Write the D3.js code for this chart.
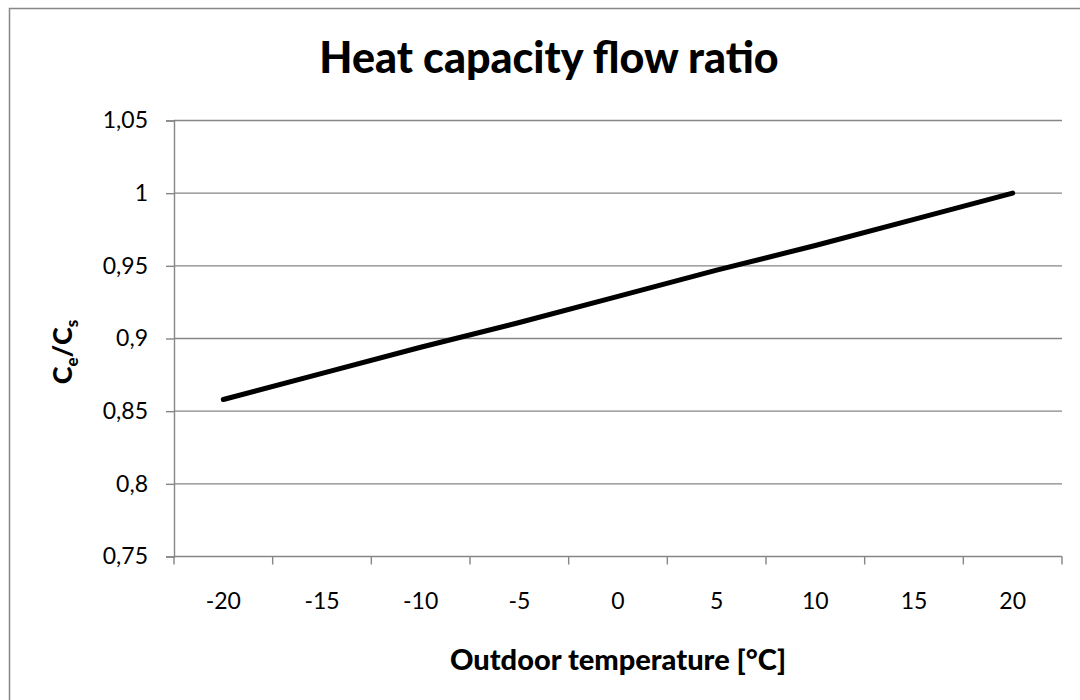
<!DOCTYPE html>
<html><head><meta charset="utf-8">
<script src="https://cdn.jsdelivr.net/npm/d3@7"></script>
<style>
html,body{margin:0;padding:0;background:#fff;}
svg{display:block;font-family:Lato,"Open Sans",sans-serif;}
</style></head>
<body>
<svg id="chart" width="1080" height="700"></svg>
<script>
const categories = ["-20","-15","-10","-5","0","5","10","15","20"];
const ratioValues = [0.858, 0.876, 0.894, 0.911, 0.929, 0.947, 0.964, 0.982, 1.0];
const yTicks = [0.75, 0.8, 0.85, 0.9, 0.95, 1.0, 1.05];
const yTickLabels = ["0,75","0,8","0,85","0,9","0,95","1","1,05"];
const titleText = "Heat capacity flow ratio";
const xTitleText = "Outdoor temperature [°C]";

(function(){
const svg = d3.select("#chart");
const grid = "#868686";
const pLeft = 174, pRight = 1062, pTop = 120.5, pBottom = 556.5;

// outer chart border
svg.append("rect").attr("x",9.5).attr("y",8.5).attr("width",1100).attr("height",720)
  .attr("fill","#fff").attr("stroke",grid).attr("stroke-width",1.5);

const x = d3.scaleBand().domain(categories).range([pLeft,pRight]).paddingInner(0).paddingOuter(0);
const y = d3.scaleLinear().domain([0.75,1.05]).range([pBottom,pTop]);

// gridlines
svg.append("g").selectAll("line").data(yTicks.slice(1)).join("line")
  .attr("x1",pLeft).attr("x2",pRight)
  .attr("y1",d=>y(d)).attr("y2",d=>y(d))
  .attr("stroke",grid).attr("stroke-width",1.4);

// y axis
const yAxis = d3.axisLeft(y).tickValues(yTicks).tickSize(8).tickPadding(18)
  .tickFormat((d,i)=>yTickLabels[i]);
const gy = svg.append("g").attr("transform",`translate(${pLeft},0)`).call(yAxis);
gy.select(".domain").attr("stroke",grid).attr("stroke-width",1.4);
gy.selectAll(".tick line").attr("stroke",grid).attr("stroke-width",1.4);
gy.selectAll(".tick text").attr("font-family","Lato").attr("font-size",23).attr("fill","#000");

// x axis: ticks at band boundaries
const xAxis = d3.axisBottom(x).tickSize(0).tickPadding(36);
const gx = svg.append("g").attr("transform",`translate(0,${pBottom})`).call(xAxis);
gx.select(".domain").remove();
gx.selectAll(".tick text").attr("font-family","Lato").attr("font-size",23).attr("fill","#000");
svg.append("line").attr("x1",pLeft).attr("x2",pRight).attr("y1",pBottom).attr("y2",pBottom)
  .attr("stroke",grid).attr("stroke-width",1.4);
const bounds = categories.map(c=>x(c)).concat([x(categories[categories.length-1])+x.bandwidth()]);
svg.append("g").selectAll("line").data(bounds).join("line")
  .attr("x1",d=>d).attr("x2",d=>d).attr("y1",pBottom).attr("y2",pBottom+8)
  .attr("stroke",grid).attr("stroke-width",1.4);

// line
const line = d3.line().x((d,i)=>x(categories[i])+x.bandwidth()/2).y(d=>y(d));
svg.append("path").datum(ratioValues).attr("d",line)
  .attr("fill","none").attr("stroke","#000").attr("stroke-width",5)
  .attr("stroke-linecap","round").attr("stroke-linejoin","round");

// title
svg.append("text").attr("x",549).attr("y",73).attr("text-anchor","middle")
  .attr("font-family","Lato").attr("font-weight","900").attr("font-size",43)
  .text(titleText);

// x title
svg.append("text").attr("x",618).attr("y",670).attr("text-anchor","middle")
  .attr("font-family","Lato").attr("font-weight","900").attr("font-size",29)
  .text(xTitleText);

// y title
const yt = svg.append("text").attr("transform","translate(72,352) rotate(-90)")
  .attr("text-anchor","middle").attr("font-family","Lato").attr("font-weight","900").attr("font-size",27);
yt.append("tspan").text("C");
yt.append("tspan").attr("font-size",17).attr("dy",6).text("e");
yt.append("tspan").attr("dy",-6).text("/C");
yt.append("tspan").attr("font-size",17).attr("dy",6).text("s");
})();
</script>
</body></html>
